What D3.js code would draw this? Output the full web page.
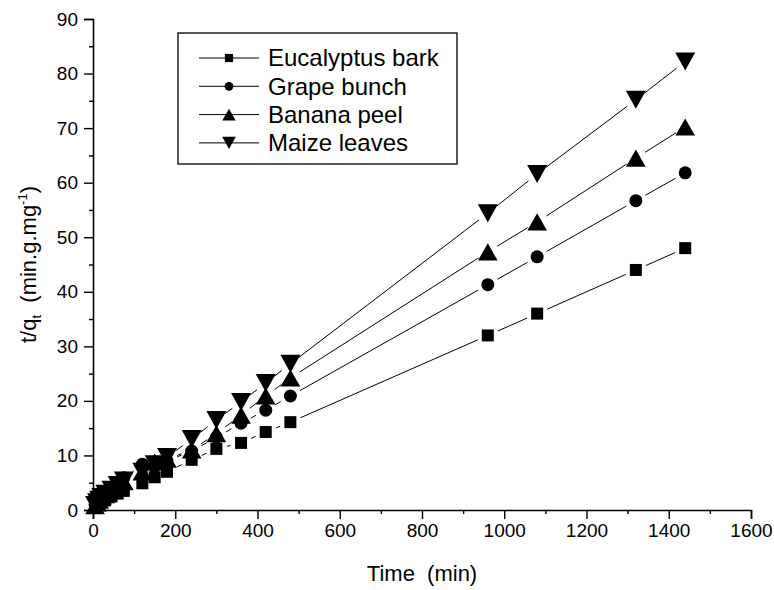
<!DOCTYPE html>
<html>
<head>
<meta charset="utf-8">
<script src="https://cdn.jsdelivr.net/npm/d3@7"></script>
<style>
  body { margin: 0; background: #fff; }
  svg text { font-family: "Liberation Sans", Arial, sans-serif; fill: #000; }
</style>
</head>
<body>
<div id="chart"></div>
<script>
// Contact times (min)
const times = [5, 10, 15, 20, 30, 45, 60, 75, 120, 150, 180, 240, 300, 360, 420, 480, 960, 1080, 1320, 1440];

// t/qt for each adsorbent
const eucalyptusBark = [0.6, 1.0, 1.3, 1.6, 1.9, 2.5, 3.0, 3.5, 4.9, 6.0, 7.0, 9.2, 11.2, 12.3, 14.3, 16.1, 32.0, 36.0, 44.0, 48.0];
const grapeBunch     = [1.0, 1.5, 2.0, 2.5, 3.0, 3.8, 4.8, 5.9, 8.4, 8.0, 9.0, 10.8, 13.3, 15.9, 18.3, 20.9, 41.3, 46.4, 56.7, 61.8];
const bananaPeel     = [0.8, 1.3, 1.8, 2.2, 2.8, 3.6, 4.5, 5.2, 7.0, 8.8, 9.3, 11.0, 14.0, 17.4, 20.9, 24.2, 47.3, 52.8, 64.5, 70.2];
const maizeLeaves    = [0.9, 1.4, 1.9, 2.4, 3.0, 3.7, 4.6, 5.4, 7.0, 8.4, 9.7, 13.0, 16.5, 19.8, 23.3, 26.8, 54.4, 61.6, 75.2, 82.2];

const seriesNames = ["Eucalyptus bark", "Grape bunch", "Banana peel", "Maize leaves"];
const seriesValues = [eucalyptusBark, grapeBunch, bananaPeel, maizeLeaves];
const seriesSymbols = ["square", "circle", "up", "down"];

const xTicks = [0, 200, 400, 600, 800, 1000, 1200, 1400, 1600];
const yTicks = [0, 10, 20, 30, 40, 50, 60, 70, 80, 90];

const W = 774, H = 590;
const margin = { top: 19, left: 93, right: 23, bottom: 80 };
const width = W - margin.left - margin.right;
const height = H - margin.top - margin.bottom;

const svg = d3.select("#chart").append("svg")
  .attr("width", W)
  .attr("height", H);

const g = svg.append("g")
  .attr("transform", `translate(${margin.left},${margin.top})`);

const x = d3.scaleLinear().domain([0, 1600]).range([0, width]);
const y = d3.scaleLinear().domain([0, 90]).range([height, 0]);

// symbol paths, s = scale factor (1 for plot, smaller in legend)
function symbolPath(type, s) {
  if (type === "square") {
    const h = 6 * s;
    return `M${-h},${-h}H${h}V${h}H${-h}Z`;
  }
  if (type === "circle") {
    const r = 6.5 * s;
    return `M${r},0A${r},${r} 0 1,1 ${-r},0A${r},${r} 0 1,1 ${r},0Z`;
  }
  if (type === "up") {
    const w = 9.8 * s, h = 8.6 * s;
    return `M0,${-h}L${w},${h}L${-w},${h}Z`;
  }
  const w = 10 * s, h = 9 * s;
  return `M${-w},${-h}L${w},${-h}L0,${h}Z`;
}

// axes: major ticks with labels, minor ticks without
g.append("g").attr("transform", `translate(0,${height})`)
  .call(d3.axisBottom(x).tickValues(xTicks).tickSize(9).tickPadding(5).tickFormat(d3.format("d")));
g.append("g").attr("transform", `translate(0,${height})`)
  .call(d3.axisBottom(x).tickValues(d3.range(100, 1600, 200)).tickSize(4).tickFormat(""))
  .select(".domain").remove();

g.append("g")
  .call(d3.axisLeft(y).tickValues(yTicks).tickSize(9).tickPadding(6));
g.append("g")
  .call(d3.axisLeft(y).tickValues(d3.range(5, 90, 10)).tickSize(4).tickFormat(""))
  .select(".domain").remove();

g.selectAll(".domain").attr("stroke-width", 1.6);
g.selectAll(".tick line").attr("stroke-width", 1.4);
g.selectAll(".tick text").style("font-size", "19px");

// connecting lines, cut short near each symbol
const gap = 11;
seriesValues.forEach((vals, si) => {
  const pts = times.map((t, i) => [x(t), y(vals[i])]);
  const segs = [];
  for (let i = 0; i < pts.length - 1; i++) {
    const [x1, y1] = pts[i], [x2, y2] = pts[i + 1];
    const dx = x2 - x1, dy = y2 - y1;
    const len = Math.hypot(dx, dy);
    if (len <= 2 * gap) continue;
    const ux = dx / len, uy = dy / len;
    segs.push([x1 + ux * gap, y1 + uy * gap, x2 - ux * gap, y2 - uy * gap]);
  }
  g.append("g").selectAll("line")
    .data(segs)
    .enter().append("line")
    .attr("x1", d => d[0]).attr("y1", d => d[1])
    .attr("x2", d => d[2]).attr("y2", d => d[3])
    .attr("stroke", "#000")
    .attr("stroke-width", 1);
});

// symbols
seriesValues.forEach((vals, si) => {
  g.append("g").selectAll("path")
    .data(times.map((t, i) => ({ t: t, v: vals[i] })))
    .enter().append("path")
    .attr("transform", d => `translate(${x(d.t)},${y(d.v)})`)
    .attr("d", symbolPath(seriesSymbols[si], 1))
    .attr("fill", "#000");
});

// axis titles
svg.append("text")
  .attr("x", margin.left + width / 2)
  .attr("y", 581)
  .attr("text-anchor", "middle")
  .style("font-size", "22px")
  .text("Time\u00a0\u00a0(min)");

const yTitle = svg.append("text")
  .attr("transform", `translate(36,${margin.top + height / 2}) rotate(-90)`)
  .attr("text-anchor", "middle")
  .style("font-size", "22px");
yTitle.append("tspan").text("t/q");
yTitle.append("tspan").attr("dy", 5).style("font-size", "13px").text("t");
yTitle.append("tspan").attr("dy", -5).text("\u00a0\u00a0(min.g.mg");
yTitle.append("tspan").attr("dy", -9).style("font-size", "13px").text("-1");
yTitle.append("tspan").attr("dy", 9).text(")");

// legend
const legend = svg.append("g");
legend.append("rect")
  .attr("x", 178).attr("y", 33)
  .attr("width", 279).attr("height", 131)
  .attr("fill", "#fff")
  .attr("stroke", "#000")
  .attr("stroke-width", 1.3);

seriesNames.forEach((name, i) => {
  const ly = 58 + i * 28.3;
  legend.append("line")
    .attr("x1", 199).attr("x2", 259)
    .attr("y1", ly).attr("y2", ly)
    .attr("stroke", "#000").attr("stroke-width", 1);
  legend.append("path")
    .attr("transform", `translate(229,${ly})`)
    .attr("d", symbolPath(seriesSymbols[i], 0.68))
    .attr("fill", "#000");
  legend.append("text")
    .attr("x", 268).attr("y", ly)
    .attr("dy", "0.35em")
    .style("font-size", "24px")
    .text(name);
});
</script>
</body>
</html>
